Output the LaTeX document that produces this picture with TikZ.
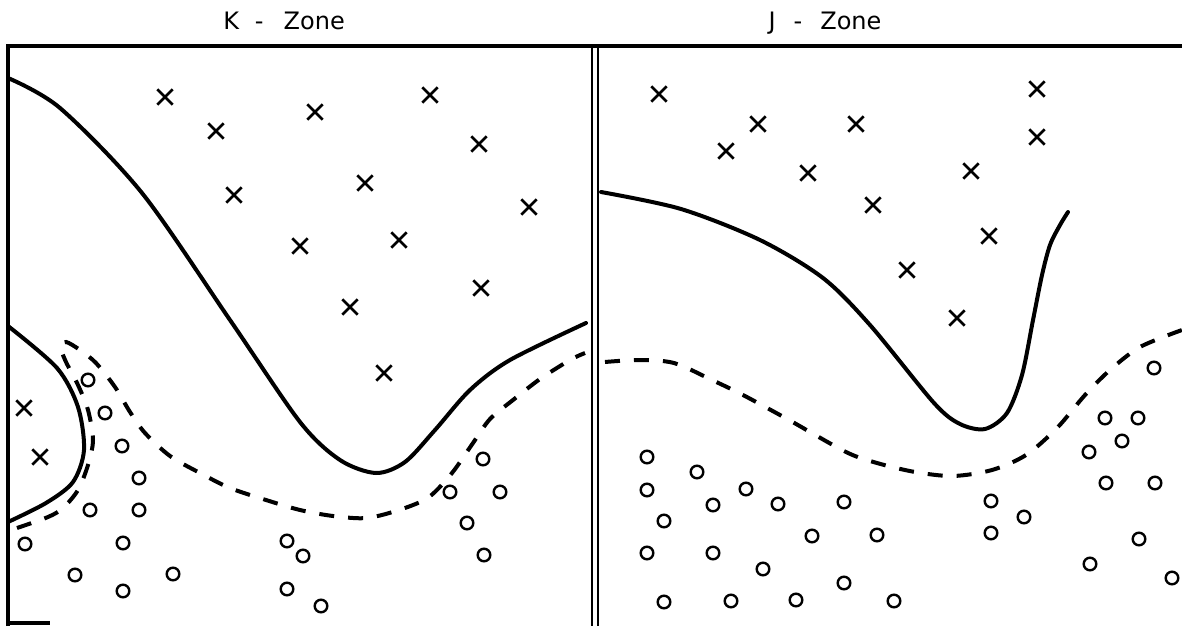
\documentclass[tikz,border=0pt]{standalone}
\usepackage{fontspec}
\newfontfamily\zonefont{DejaVu Sans}
\usetikzlibrary{shapes.misc}

\tikzset{
  cross/.style={cross out, draw, line width=1.3pt, minimum size=6.4pt, inner sep=0pt},
  ring/.style={circle, draw, line width=1.2pt, minimum size=6.3pt, inner sep=0pt},
  border/.style={line width=1.6pt},
  bound/.style={line width=2pt, line cap=round},
  margin/.style={line width=2pt, dash pattern=on 7.5pt off 7pt},
  title/.style={font=\zonefont\fontsize{12}{14}\selectfont, anchor=base, inner sep=0pt}
}

\begin{document}
\begin{tikzpicture}[x=0.5pt, y=-0.5pt]
\useasboundingbox (0,0) rectangle (1182,626);

% titles
\node[title] (ktitle) at (284,30) {K\hspace{8pt}-\hspace{10pt}Zone};
\node[title] (jtitle) at (825,30) {J\hspace{9pt}-\hspace{9pt}Zone};

% frame
\draw[border] (8,626) -- (8,46) -- (1182,46);
\draw[line width=1.2pt] (592,46) -- (592,626);
\draw[line width=1.2pt] (598,46) -- (598,626);
\draw[border] (8,623) -- (50,623);

% K - Zone boundaries
\draw[bound] plot[smooth] coordinates {(8,78) (60,108) (142,193) (230,320) (300,422) (340,460) (376,473) (405,462) (435,430) (470,390) (510,360) (586,323)};
\draw[bound] plot[smooth] coordinates {(8,326) (57,368) (78,407) (84,450) (73,482) (46,503) (8,522)};
\draw[margin] plot[smooth] coordinates {(17,528) (48,517) (63,508) (78,490) (88,465) (93,440) (88,410) (78,385) (66,362) (61,348) (66,342) (80,350) (96,363) (115,387) (130,412) (145,433) (170,456) (200,473) (230,488) (266,500) (300,510) (333,516) (367,518) (402,509) (429,497) (452,473) (473,443) (490,419) (513,400) (540,379) (570,360) (585,353)};

% J - Zone boundaries
\draw[bound] plot[smooth] coordinates {(601,192) (681,209) (760,240) (823,278) (870,325) (934,403) (960,424) (985,429) (1007,413) (1022,375) (1033,320) (1042,275) (1050,245) (1060,225) (1068,212)};
\draw[margin] plot[smooth] coordinates {(605,362) (639,360) (674,363) (712,380) (743,395) (789,420) (846,452) (877,463) (915,472) (953,476) (992,470) (1026,455) (1057,428) (1085,395) (1110,370) (1140,347) (1182,330)};

% class x
\foreach \a/\b [count=\i] in {165/97, 216/131, 315/112, 430/95, 479/144, 234/195, 365/183, 529/207, 300/246, 399/240, 350/307, 481/288, 384/373, 24/408, 40/457}
  \node[cross] (kx\i) at (\a,\b) {};
\foreach \a/\b [count=\i] in {659/94, 758/124, 726/151, 856/124, 808/173, 1037/89, 1037/137, 971/171, 873/205, 989/236, 907/270, 957/318}
  \node[cross] (jx\i) at (\a,\b) {};

% class o
\foreach \a/\b [count=\i] in {88/380, 105/413, 122/446, 139/478, 90/510, 139/510, 25/544, 123/543, 75/575, 123/591, 173/574, 287/541, 303/556, 287/589, 321/606, 483/459, 500/492, 450/492, 467/523, 484/555}
  \node[ring] (ko\i) at (\a,\b) {};
\foreach \a/\b [count=\i] in {647/457, 697/472, 647/490, 664/521, 713/505, 746/489, 778/504, 844/502, 812/536, 877/535, 647/553, 713/553, 763/569, 844/583, 664/602, 731/601, 796/600, 894/601, 991/501, 1024/517, 991/533, 1105/418, 1138/418, 1122/441, 1089/452, 1154/368, 1106/483, 1155/483, 1139/539, 1090/564, 1172/578}
  \node[ring] (jo\i) at (\a,\b) {};
\end{tikzpicture}
\end{document}
